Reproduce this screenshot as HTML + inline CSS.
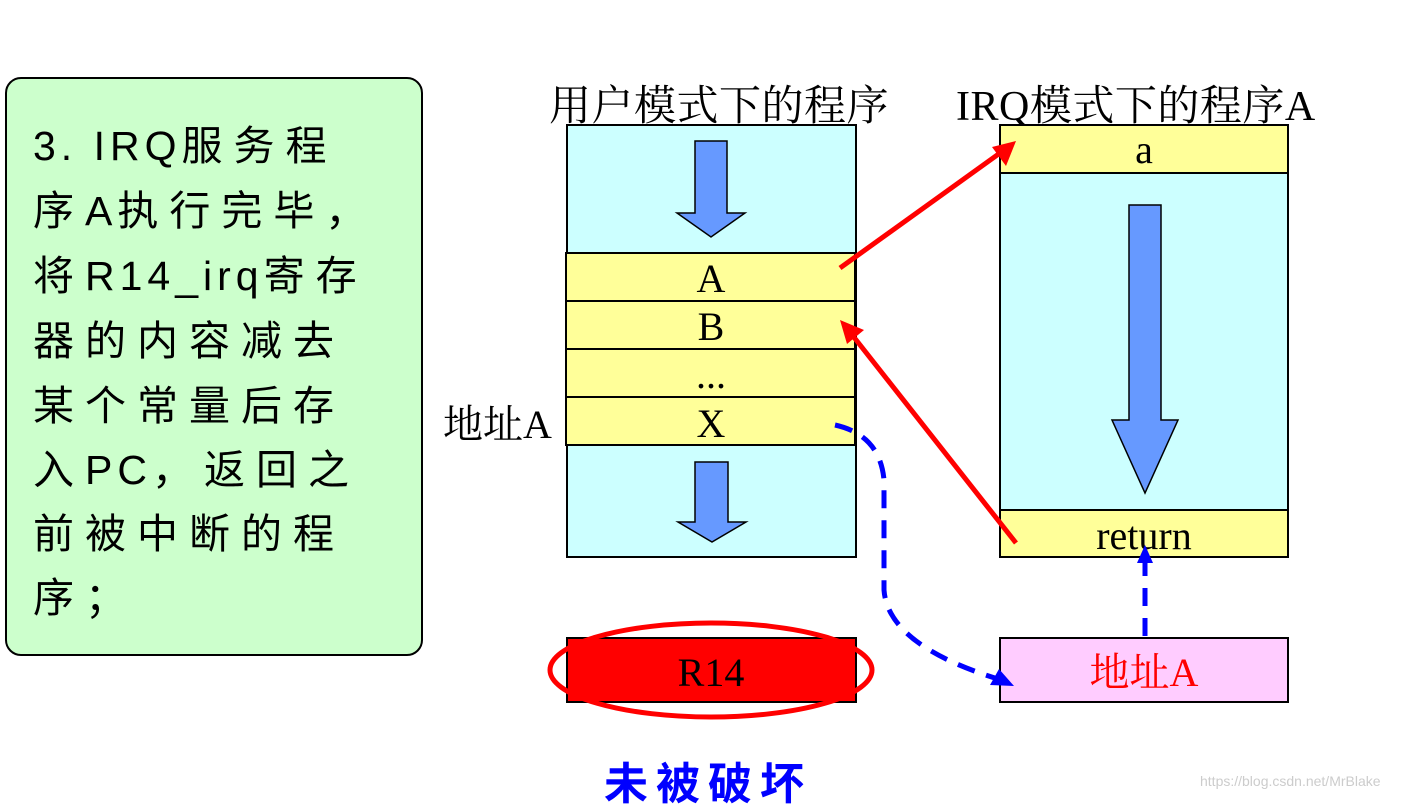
<!DOCTYPE html>
<html><head><meta charset="utf-8"><style>
body{margin:0;width:1413px;height:801px;background:#fff;position:relative;overflow:hidden;font-family:"Liberation Serif","Noto Serif CJK SC",serif}
.t{position:absolute;white-space:nowrap}
.g{font-family:"Liberation Sans","Noto Sans CJK SC",sans-serif;font-size:41px;letter-spacing:11px;color:#000;left:33px}
.g b{font-weight:normal;letter-spacing:5px}
</style></head><body>
<div style="position:absolute;left:5px;top:77px;width:414px;height:575px;background:#ccffcc;border:2px solid #000;border-radius:16px"></div>
<div class="t g" style="top:112px"><b>3. IRQ</b>服务程</div>
<div class="t g" style="top:177px">序<b>A</b>执行完毕，</div>
<div class="t g" style="top:242px">将<b>R14_irq</b>寄存</div>
<div class="t g" style="top:307px">器的内容减去</div>
<div class="t g" style="top:372px">某个常量后存</div>
<div class="t g" style="top:436px">入<b>PC</b>，返回之</div>
<div class="t g" style="top:500px">前被中断的程</div>
<div class="t g" style="top:564px">序；</div>

<div class="t" style="left:549px;top:73px;font-size:42px;letter-spacing:0.5px">用户模式下的程序</div>
<div class="t" style="left:956px;top:73px;font-size:42px;letter-spacing:0.5px">IRQ模式下的程序A</div>
<div class="t" style="left:443px;top:393px;font-size:40px">地址A</div>

<svg width="1413" height="801" style="position:absolute;left:0;top:0" font-family="Liberation Serif, Noto Serif CJK SC, serif">
<rect x="567" y="125" width="289" height="432" fill="#ccffff" stroke="#000" stroke-width="2"/>
<g fill="#ffff99" stroke="#000" stroke-width="2">
<rect x="566" y="253" width="289" height="48"/><rect x="566" y="301" width="289" height="48"/>
<rect x="566" y="349" width="289" height="48"/><rect x="566" y="397" width="289" height="48"/>
</g>
<g font-size="40" text-anchor="middle"><text x="711" y="292">A</text><text x="711" y="340">B</text><text x="711" y="388">...</text><text x="711" y="437">X</text></g>
<path d="M695,141h32v72h18l-34,24l-34,-24h18z" fill="#6699ff" stroke="#000" stroke-width="1.5"/>
<path d="M695,462h33v60h18l-34,20l-34,-20h17z" fill="#6699ff" stroke="#000" stroke-width="1.5"/>

<rect x="1000" y="125" width="288" height="432" fill="#ccffff" stroke="#000" stroke-width="2"/>
<rect x="1000" y="125" width="288" height="48" fill="#ffff99" stroke="#000" stroke-width="2"/>
<rect x="1000" y="510" width="288" height="47" fill="#ffff99" stroke="#000" stroke-width="2"/>
<text x="1144" y="163" font-size="40" text-anchor="middle">a</text>
<text x="1144" y="549" font-size="40" text-anchor="middle">return</text>
<path d="M1129,205h32v215h17l-33,73l-33,-73h17z" fill="#6699ff" stroke="#000" stroke-width="1.5"/>

<rect x="567" y="638" width="289" height="64" fill="#f00" stroke="#000" stroke-width="2"/>
<text x="711" y="686" font-size="40" text-anchor="middle">R14</text>
<ellipse cx="711" cy="670" rx="161" ry="47" fill="none" stroke="#f00" stroke-width="5"/>
<rect x="1000" y="638" width="288" height="64" fill="#ffccff" stroke="#000" stroke-width="2"/>
<text x="1144" y="686" font-size="40" text-anchor="middle" fill="#f00">地址A</text>

<line x1="840" y1="268" x2="1000" y2="153" stroke="#f00" stroke-width="5"/>
<path d="M1016,141l-10,25l-14,-19z" fill="#f00"/>
<line x1="1016" y1="543" x2="853" y2="336" stroke="#f00" stroke-width="5"/>
<path d="M840,320l24,10l-17,14z" fill="#f00"/>
<path d="M835,425Q880,435 884,480L884,590Q888,645 998,679" fill="none" stroke="#00f" stroke-width="5" stroke-dasharray="18,12"/>
<path d="M1014,686l-24,-1l9,-16z" fill="#00f"/>
<line x1="1145" y1="636" x2="1145" y2="562" stroke="#00f" stroke-width="5" stroke-dasharray="18,12"/>
<path d="M1145,545l-8,18h16z" fill="#00f"/>
</svg>
<div class="t" style="left:604px;top:748px;font-size:44px;color:#00f;letter-spacing:8px;font-family:'Noto Sans CJK SC',sans-serif;font-weight:bold">未被破坏</div>
<div class="t" style="left:1200px;top:773px;font-size:14px;color:#ccc;font-family:'Liberation Sans',sans-serif">https://blog.csdn.net/MrBlake</div>
</body></html>
